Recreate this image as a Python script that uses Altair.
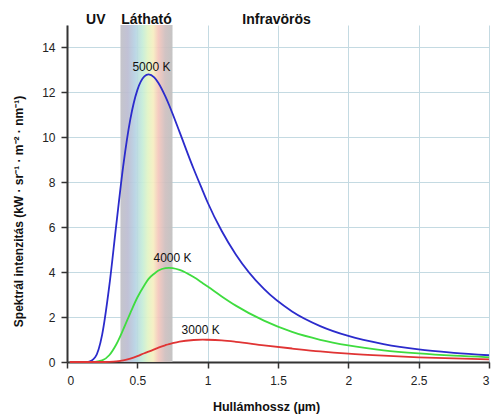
import altair as alt
import pandas as pd

# Wavelength (µm) and spectral intensity (kW · sr⁻¹ · m⁻² · nm⁻¹)
wavelengths = [0.02, 0.1, 0.15, 0.2, 0.25, 0.3, 0.35, 0.4, 0.45, 0.5, 0.55, 0.58, 0.62, 0.65, 0.7,
               0.725, 0.75, 0.8, 0.9, 0.965, 1.0, 1.1, 1.2, 1.4, 1.6, 1.8, 2.0, 2.25, 2.5, 2.75, 3.0]
i5000 = [0, 0, 0.01, 0.21, 1.22, 3.35, 6.09, 8.74, 10.80, 12.10, 12.71, 12.80, 12.67, 12.42, 11.81,
         11.45, 11.06, 10.24, 8.60, 7.62, 7.10, 5.83, 4.79, 3.25, 2.25, 1.60, 1.16, 0.80, 0.56, 0.41, 0.30]
i4000 = [0, 0, 0, 0.01, 0.07, 0.30, 0.78, 1.45, 2.18, 2.87, 3.42, 3.70, 3.93, 4.07, 4.18,
         4.19, 4.18, 4.10, 3.78, 3.51, 3.36, 2.92, 2.51, 1.84, 1.34, 0.99, 0.74, 0.52, 0.38, 0.28, 0.21]
i3000 = [0, 0, 0, 0, 0, 0.01, 0.03, 0.07, 0.15, 0.26, 0.39, 0.46, 0.56, 0.64, 0.75,
         0.80, 0.84, 0.91, 0.98, 0.995, 0.99, 0.96, 0.90, 0.74, 0.60, 0.47, 0.37, 0.28, 0.21, 0.16, 0.12]
series_names = ["5000 K", "4000 K", "3000 K"]
series_colors = ["#2b2bcc", "#3fdc3f", "#e03434"]

# Curve labels
label_text = ["5000 K", "4000 K", "3000 K"]
label_x = [0.60, 0.75, 0.95]
label_y = [13.15, 4.63, 1.42]

# Region labels above the plot
region_text = ["UV", "Látható", "Infravörös"]
region_x = [0.205, 0.565, 1.49]

# Visible band
band_lo = [0.38]
band_hi = [0.75]
band_top = [15]
band_bottom = [0]
grad_offsets = [0, 0.14, 0.28, 0.42, 0.53, 0.63, 0.73, 0.86, 1]
grad_colors = ["#c0c0c6", "#bcbcd2", "#b6d2e4", "#c4ecd8", "#e2f4c4", "#f6eec0",
               "#f4c6bc", "#cebebe", "#bfbfbf"]

x_ticks = [0, 0.5, 1, 1.5, 2, 2.5, 3]
y_ticks = [0, 2, 4, 6, 8, 10, 12, 14]

rows = []
for name, vals in zip(series_names, [i5000, i4000, i3000]):
    for w, v in zip(wavelengths, vals):
        rows.append({"wl": w, "val": v, "series": name})
df = pd.DataFrame(rows)

band_df = pd.DataFrame({"lo": band_lo, "hi": band_hi, "top": band_top, "bot": band_bottom})
lab_df = pd.DataFrame({"t": label_text, "x": label_x, "y": label_y})
reg_df = pd.DataFrame({"t": region_text, "x": region_x})

FONT = "Liberation Sans"
xscale = alt.Scale(domain=[0, 3], nice=False, zero=False)
yscale = alt.Scale(domain=[0, 15], nice=False)

xaxis = alt.Axis(values=x_ticks, format="~g", title="Hullámhossz  (µm)", grid=True,
                 gridColor="#c4dae2", gridWidth=1, domainColor="#333333", domainWidth=2,
                 tickColor="#333333", tickWidth=1.5, tickSize=6, labelFontSize=12,
                 labelColor="#222222", labelFont=FONT, labelPadding=7,
                 titleFont=FONT, titleFontSize=12.5, titleFontWeight="bold", titleColor="#111111",
                 titleX=199, titleY=44, titleAlign="center", titleBaseline="middle")
yaxis = alt.Axis(values=y_ticks, title="Spektrál intenzitás (kW · sr⁻¹ · m⁻² · nm⁻¹)", grid=True,
                 gridColor="#c4dae2", gridWidth=1, domainColor="#333333", domainWidth=2,
                 tickColor="#333333", tickWidth=1.5, tickSize=6, labelFontSize=12,
                 labelColor="#222222", labelFont=FONT, labelPadding=6,
                 titleFont=FONT, titleFontSize=12, titleFontWeight="bold", titleColor="#111111",
                 titleAngle=270, titleX=-49, titleY=186, titleAlign="center", titleBaseline="middle")

gradient = alt.LinearGradient(
    gradient="linear",
    stops=[alt.GradientStop(color=c, offset=o) for c, o in zip(grad_colors, grad_offsets)],
    x1=0, x2=1, y1=0, y2=0,
)

band = alt.Chart(band_df).mark_rect(color=gradient, opacity=0.92).encode(
    x=alt.X("lo:Q", scale=xscale, axis=xaxis),
    x2="hi:Q",
    y=alt.Y("top:Q", scale=yscale, axis=yaxis),
    y2="bot:Q",
)

lines = alt.Chart(df).mark_line(strokeWidth=1.8, interpolate="monotone").encode(
    x=alt.X("wl:Q", scale=xscale),
    y=alt.Y("val:Q", scale=yscale),
    color=alt.Color("series:N", scale=alt.Scale(domain=series_names, range=series_colors), legend=None),
)

labels = alt.Chart(lab_df).mark_text(font=FONT, fontSize=12, color="#111111", baseline="middle").encode(
    x=alt.X("x:Q", scale=xscale),
    y=alt.Y("y:Q", scale=yscale),
    text="t:N",
)

regions = alt.Chart(reg_df).mark_text(font=FONT, fontSize=14, fontWeight="bold", color="#111111",
                                      baseline="middle").encode(
    x=alt.X("x:Q", scale=xscale),
    y=alt.value(-5),
    text="t:N",
)

chart = alt.layer(band, lines, labels, regions).properties(
    width=422, height=337,
    padding={"left": 67, "top": 25, "right": 2, "bottom": 54},
    autosize=alt.AutoSizeParams(type="none"),
    background="white",
).configure_view(stroke=None)

chart.save("out.html", embed_options={"renderer": "svg", "actions": False})
